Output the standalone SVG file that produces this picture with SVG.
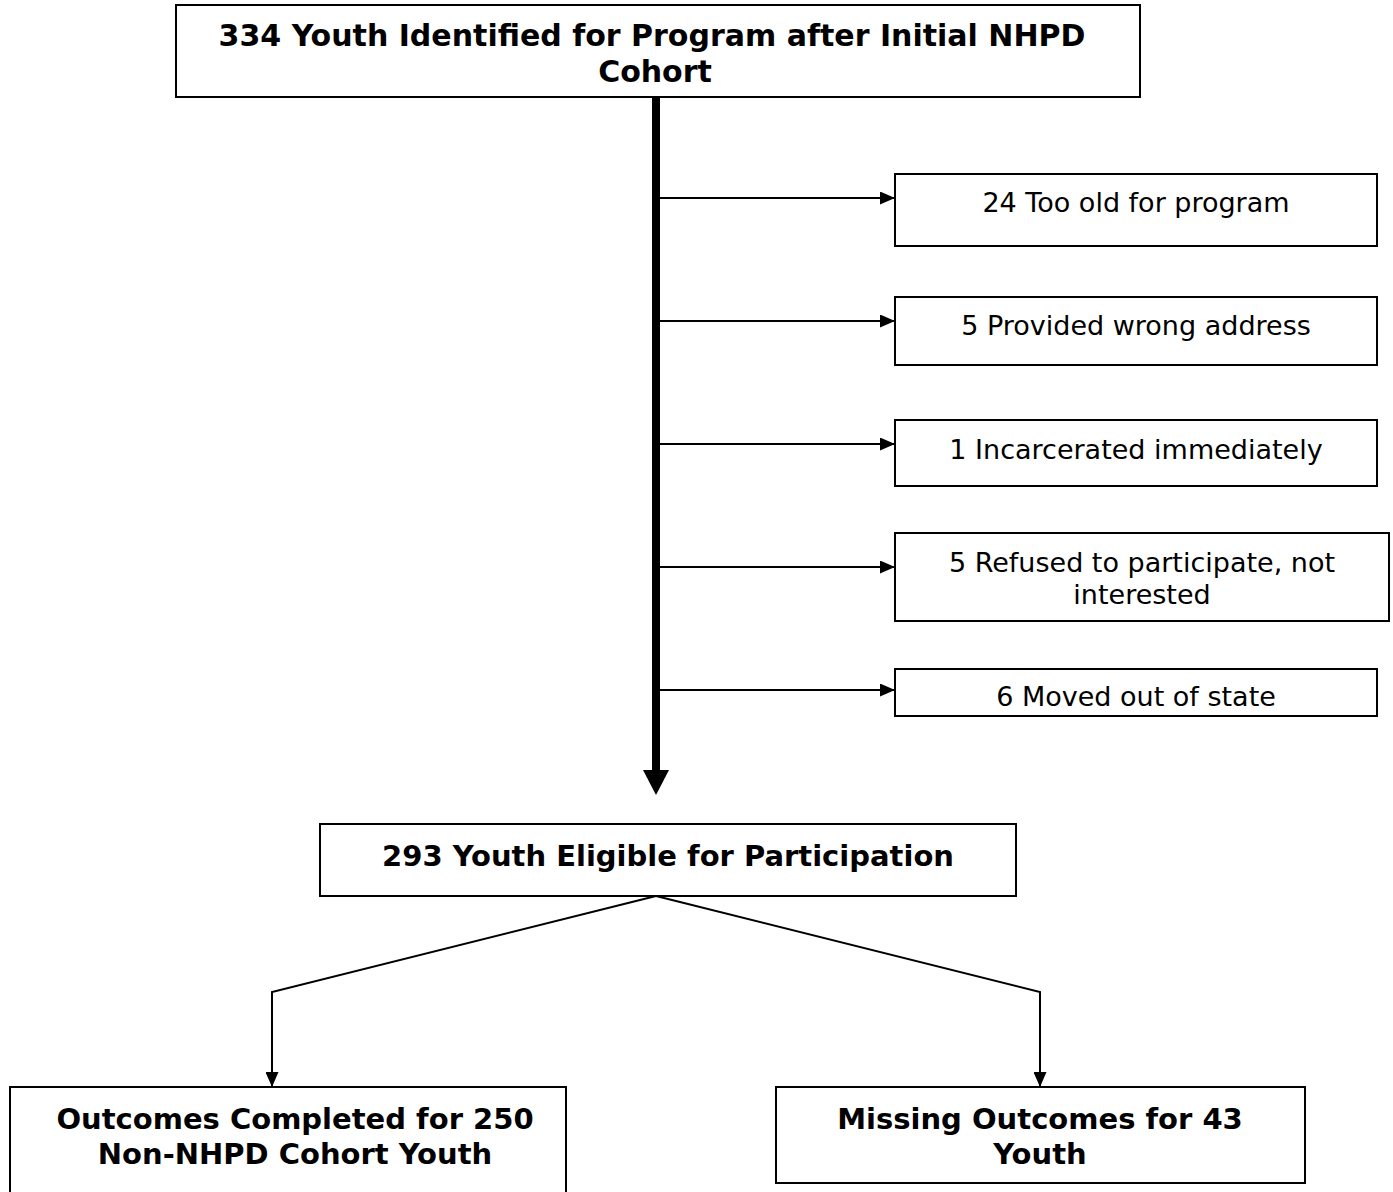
<svg xmlns="http://www.w3.org/2000/svg" width="1393" height="1192" viewBox="0 0 1393 1192">
<defs>
<style>
.box{fill:#fff;stroke:#000;stroke-width:2}
.b{font-family:"DejaVu Sans",Verdana,sans-serif;font-weight:bold;font-size:29px;text-anchor:middle;fill:#000}
.t{font-size:30px}
.r{font-family:"DejaVu Sans",Verdana,sans-serif;font-size:27px;text-anchor:middle;fill:#000}
.thin{fill:none;stroke:#000;stroke-width:2}
</style>
<marker id="ah" markerWidth="15" markerHeight="13" refX="15" refY="6.5" orient="auto" markerUnits="userSpaceOnUse">
<path d="M0,0 L15,6.5 L0,13 Z" fill="#000"/>
</marker>
</defs>
<rect width="1393" height="1192" fill="#fff"/>
<g id="connectors">
<line x1="656" y1="97" x2="656" y2="772" stroke="#000" stroke-width="8"/>
<path d="M643,770 L669,770 L656,795 Z" fill="#000"/>
<line class="thin" x1="660" y1="198" x2="895" y2="198" marker-end="url(#ah)"/>
<line class="thin" x1="660" y1="321" x2="895" y2="321" marker-end="url(#ah)"/>
<line class="thin" x1="660" y1="444" x2="895" y2="444" marker-end="url(#ah)"/>
<line class="thin" x1="660" y1="567" x2="895" y2="567" marker-end="url(#ah)"/>
<line class="thin" x1="660" y1="690" x2="895" y2="690" marker-end="url(#ah)"/>
<polyline class="thin" points="656,896 272,992 272,1087" marker-end="url(#ah)"/>
<polyline class="thin" points="656,896 1040,992 1040,1087" marker-end="url(#ah)"/>
</g>
<g id="n-top">
<rect class="box" x="176" y="5" width="964" height="92"/>
<text class="b t" x="652" y="46">334 Youth Identified for Program after Initial NHPD</text>
<text class="b t" x="655" y="82">Cohort</text>
</g>
<g id="n-old">
<rect class="box" x="895" y="174" width="482" height="72"/>
<text class="r" x="1136" y="212">24 Too old for program</text>
</g>
<g id="n-address">
<rect class="box" x="895" y="297" width="482" height="68"/>
<text class="r" x="1136" y="335">5 Provided wrong address</text>
</g>
<g id="n-incarcerated">
<rect class="box" x="895" y="420" width="482" height="66"/>
<text class="r" x="1136" y="459">1 Incarcerated immediately</text>
</g>
<g id="n-refused">
<rect class="box" x="895" y="533" width="494" height="88"/>
<text class="r" x="1142" y="572">5 Refused to participate, not</text>
<text class="r" x="1142" y="604">interested</text>
</g>
<g id="n-moved">
<rect class="box" x="895" y="669" width="482" height="47"/>
<text class="r" x="1136" y="706">6 Moved out of state</text>
</g>
<g id="n-eligible">
<rect class="box" x="320" y="824" width="696" height="72"/>
<text class="b" x="668" y="866">293 Youth Eligible for Participation</text>
</g>
<g id="n-completed">
<rect class="box" x="10" y="1087" width="556" height="110"/>
<text class="b" x="295" y="1129">Outcomes Completed for 250</text>
<text class="b" x="295" y="1164">Non-NHPD Cohort Youth</text>
</g>
<g id="n-missing">
<rect class="box" x="776" y="1087" width="529" height="96"/>
<text class="b" x="1040" y="1129">Missing Outcomes for 43</text>
<text class="b" x="1040" y="1164">Youth</text>
</g>
</svg>
